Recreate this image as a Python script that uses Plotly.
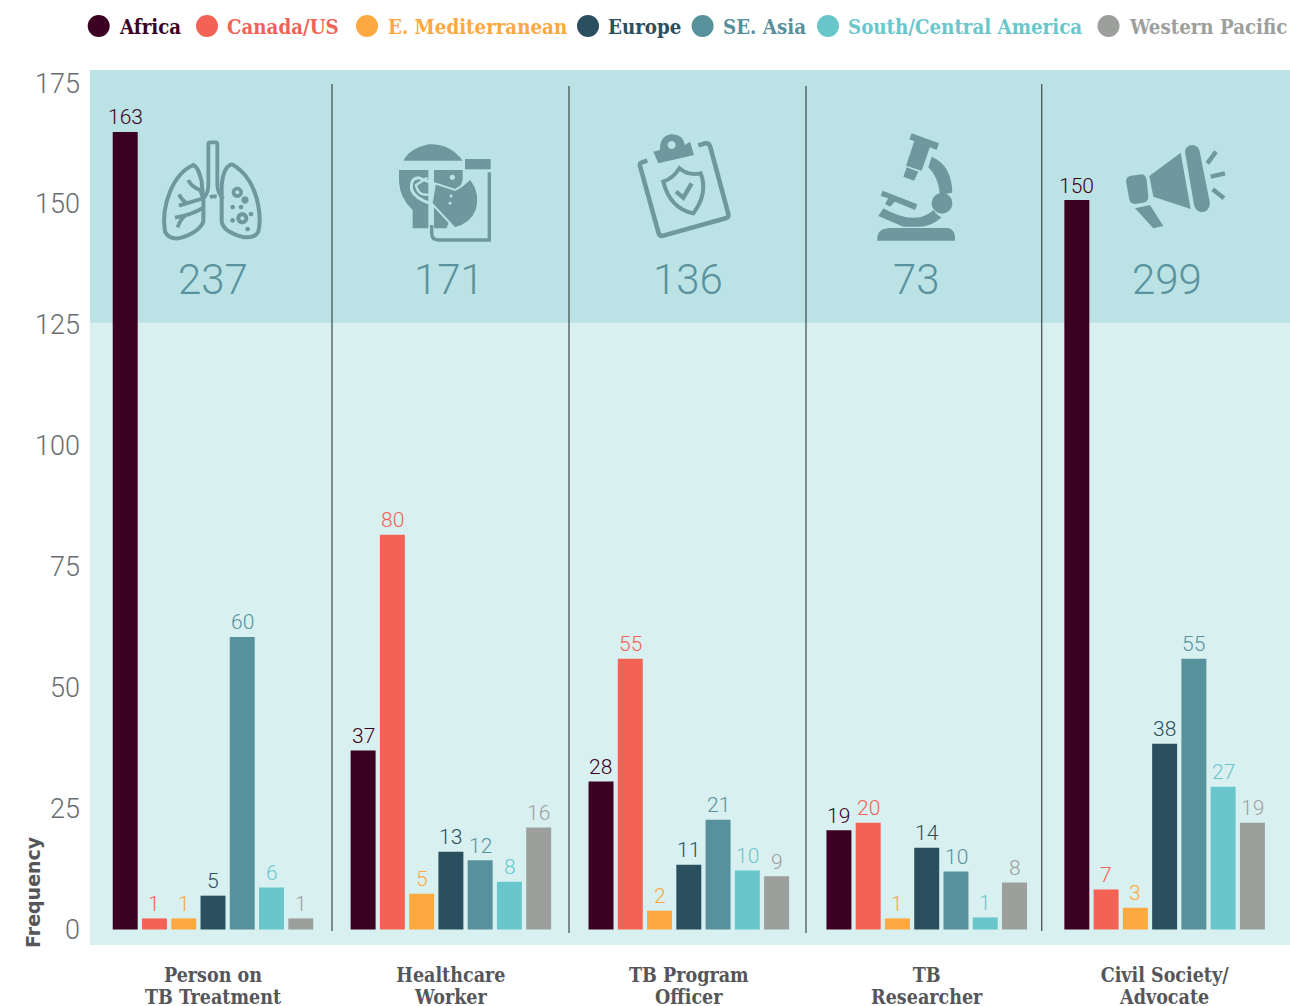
import re
import plotly.graph_objects as go

# ---- data ----
categories = ["Person on<br>TB Treatment", "Healthcare<br>Worker", "TB Program<br>Officer",
              "TB<br>Researcher", "Civil Society/<br>Advocate"]
series_names = ["Africa", "Canada/US", "E. Mediterranean", "Europe", "SE. Asia",
                "South/Central America", "Western Pacific"]
series_colors = ["#3c0022", "#f26355", "#fda840", "#2a4f5e", "#57919c", "#69c7cc", "#9c9f9c"]

africa_bars = [164.9, 37.0, 30.6, 20.5, 150.8]
canada_bars = [2.3, 81.6, 56.0, 22.1, 8.3]
emed_bars = [2.3, 7.4, 3.9, 2.3, 4.5]
europe_bars = [7.0, 16.1, 13.4, 16.9, 38.4]
seasia_bars = [60.5, 14.3, 22.7, 12.0, 56.0]
scamerica_bars = [8.7, 9.9, 12.2, 2.5, 29.5]
wpacific_bars = [2.3, 21.1, 11.0, 9.7, 22.1]
bar_values = [africa_bars, canada_bars, emed_bars, europe_bars, seasia_bars, scamerica_bars, wpacific_bars]

africa_labels = [163, 37, 28, 19, 150]
canada_labels = [1, 80, 55, 20, 7]
emed_labels = [1, 5, 2, 1, 3]
europe_labels = [5, 13, 11, 14, 38]
seasia_labels = [60, 12, 21, 10, 55]
scamerica_labels = [6, 8, 10, 1, 27]
wpacific_labels = [1, 16, 9, 8, 19]
bar_labels = [africa_labels, canada_labels, emed_labels, europe_labels, seasia_labels, scamerica_labels, wpacific_labels]

totals = [237, 171, 136, 73, 299]
y_ticks = [0, 25, 50, 75, 100, 125, 150, 175]

# ---- layout constants ----
W, H = 1290, 1006
L, T, R, B = 90, 70, 1290, 945
THIN = "Roboto"
SLAB = "DejaVu Serif Condensed"
ICON = "#6f989e"
BAND = "#bbe3e5"
PALE = "#d9f0f1"

def px(x): return (x - L) / (R - L)
def py(y): return (B - y) / (B - T)

def to_paper(path, ox=0, oy=0, s=1.0):
    toks = re.findall(r"[MLQCZ]|-?\d+\.?\d*", path)
    out, is_x = [], True
    for t in toks:
        if t in "MLQCZ":
            out.append(t); is_x = True
        else:
            v = float(t)
            if is_x:
                out.append(f"{px(ox + v * s):.5f}")
            else:
                out.append(f"{py(oy + v * s):.5f}")
            is_x = not is_x
    res, i = "", 0
    while i < len(out):
        if out[i] in "MLQCZ":
            res += out[i]; i += 1
        else:
            res += out[i] + "," + out[i + 1] + " "; i += 2
    return res

def circ(cx, cy, r):
    k = 0.5523 * r
    return (f"M {cx-r} {cy} C {cx-r} {cy-k} {cx-k} {cy-r} {cx} {cy-r} "
            f"C {cx+k} {cy-r} {cx+r} {cy-k} {cx+r} {cy} "
            f"C {cx+r} {cy+k} {cx+k} {cy+r} {cx} {cy+r} "
            f"C {cx-k} {cy+r} {cx-r} {cy+k} {cx-r} {cy} Z ")

shapes = []
def fill(path, ox, oy, color=ICON, s=1/3):
    shapes.append(dict(type="path", xref="paper", yref="paper", path=to_paper(path, ox, oy, s),
                       fillcolor=color, line=dict(width=0), fillrule="evenodd", layer="below"))
def stroke(path, ox, oy, w, color=ICON, s=1/3):
    shapes.append(dict(type="path", xref="paper", yref="paper", path=to_paper(path, ox, oy, s),
                       fillcolor="rgba(0,0,0,0)", line=dict(width=w, color=color), layer="below"))

# background band
shapes.append(dict(type="rect", xref="paper", yref="paper", x0=0, x1=1, y0=py(322.7), y1=1,
                   fillcolor=BAND, line=dict(width=0), layer="below"))

# group separators
for x, y0, y1 in [(332, 84, 931), (569, 86, 933), (806, 86, 933), (1041.7, 84, 931)]:
    shapes.append(dict(type="line", xref="paper", yref="paper", x0=px(x), x1=px(x), y0=py(y0), y1=py(y1),
                       line=dict(width=1.3, color="#4a5556"), layer="below"))

# lungs
ox, oy = 155, 135
stroke("M 160 150 L 160 27 Q 160 22 165 22 L 182 22 Q 187 22 187 27 L 187 150 Q 187 172 205 192", ox, oy, 3.8)
stroke("M 160 150 Q 160 175 145 190 L 72 212", ox, oy, 3.8)
stroke("M 225 90 Q 205 100 200 150 L 200 260 Q 205 290 260 305 Q 300 312 310 290 Q 320 250 305 190 Q 285 120 235 90 Q 230 87 225 90 Z", ox, oy, 4)
stroke("M 115 90 Q 130 95 140 140 Q 148 200 145 260 Q 130 295 70 310 Q 40 312 30 290 Q 20 230 45 170 Q 70 110 115 90 Z", ox, oy, 4)
stroke("M 100 135 Q 108 155 135 165 L 145 190", ox, oy, 3.8)
stroke("M 72 178 Q 80 195 95 205", ox, oy, 3.8)
stroke("M 145 218 Q 110 240 60 248", ox, oy, 3.8)
stroke("M 90 242 Q 75 255 68 277", ox, oy, 3.8)
stroke("M 165 187 Q 172 182 185 185", ox, oy, 3.8)
fill(circ(247, 172, 17) + circ(247, 172, 6), ox, oy)
fill(circ(270, 195, 11), ox, oy)
fill(circ(233, 216, 7), ox, oy)
fill(circ(258, 216, 7), ox, oy)
fill(circ(262, 250, 18) + circ(262, 250, 6), ox, oy)
fill(circ(288, 237, 7), ox, oy)
fill(circ(233, 256, 7), ox, oy)
fill(circ(278, 282, 7), ox, oy)

# face shield
ox, oy = 390, 135
fill("M 40 77 Q 60 40 115 28 Q 180 25 218 77 Z", ox, oy)
fill("M 225 72 L 302 72 L 302 103 L 225 103 Z", ox, oy)
fill("M 27 105 L 115 105 L 115 280 L 68 280 L 68 225 Q 30 190 27 140 Z", ox, oy)
fill("M 132 105 L 218 105 L 218 135 L 170 280 L 132 280 Z", ox, oy)
stroke("M 298 112 L 298 315 L 145 315 Q 125 315 125 295 L 125 270", ox, oy, 3.4)
stroke("M 130 145 L 85 128 Q 60 130 65 165 Q 75 190 120 205", ox, oy, 3, BAND)
stroke("M 112 128 L 78 150 Q 85 185 118 178", ox, oy, 2.4, BAND)
shapes.append(dict(type="path", xref="paper", yref="paper",
                   path=to_paper("M 135 145 L 195 165 Q 225 148 240 130 Q 275 170 260 225 Q 245 265 195 280 L 125 205 Z", ox, oy, 1/3),
                   fillcolor=ICON, line=dict(width=2, color=BAND), layer="below"))
fill(circ(187, 127, 8), ox, oy, BAND)
fill(circ(183, 183, 4.5), ox, oy, BAND)
fill(circ(180, 205, 4.5), ox, oy, BAND)

# clipboard
ox, oy = 630, 130
stroke("M 52 92 L 36 97 Q 28 100 30 108 L 86 310 Q 90 320 100 317 L 287 265 Q 297 262 295 252 L 240 48 Q 236 38 226 40 L 205 46", ox, oy, 4.6)
fill("M 70 65 L 90 60 Q 88 20 122 13 Q 158 10 165 45 L 180 35 L 192 75 L 85 100 Z" + " " + circ(125, 45, 12), ox, oy)
stroke("M 148 115 Q 175 138 212 130 Q 235 190 190 250 Q 120 235 100 155 Q 130 145 148 115 Z", ox, oy, 4)
stroke("M 138 185 L 160 203 L 185 160", ox, oy, 4.4)

# microscope
ox, oy = 870, 130
fill("M 125 10 L 207 40 L 200 60 L 118 28 Z", ox, oy)
fill("M 133 32 L 180 50 L 155 122 L 108 107 Z", ox, oy)
fill("M 110 112 L 145 125 L 132 152 L 100 140 Z", ox, oy)
fill("M 185 80 Q 245 105 247 188 Q 230 190 210 195 Q 205 140 175 112 Z", ox, oy)
fill(circ(216, 220, 31), ox, oy)
fill("M 38 182 L 142 223 L 135 240 L 75 215 L 60 230 L 45 222 L 55 205 L 32 198 Z", ox, oy)
fill("M 40 235 Q 100 270 150 262 Q 175 255 190 240 Q 205 260 215 262 Q 185 290 150 290 L 100 290 L 25 258 Z", ox, oy)
fill("M 22 332 L 22 320 Q 25 295 60 294 L 235 294 Q 258 300 255 332 Z", ox, oy)

# megaphone
ox, oy = 1120, 140
fill("M 30 108 L 65 103 Q 78 105 80 120 L 85 170 Q 85 185 70 188 L 45 192 Q 30 192 28 178 L 18 125 Q 18 112 30 108 Z", ox, oy)
fill("M 182 38 L 212 207 L 100 170 L 88 108 Z", ox, oy)
fill("M 195 35 Q 197 15 218 15 Q 238 17 240 40 L 270 190 Q 268 215 245 217 Q 228 215 222 195 Z", ox, oy)
fill("M 45 205 L 90 195 L 130 258 L 100 265 Z", ox, oy)
stroke("M 262 70 L 288 35", ox, oy, 4.4)
stroke("M 272 110 L 315 100", ox, oy, 4.4)
stroke("M 278 148 L 312 175", ox, oy, 4.4)

annotations = []

# legend
legend_circle_x = [98.7, 207, 367, 588, 702.6, 828, 1108.5]
legend_text_x = [119, 227, 387.6, 608, 723, 848, 1129]
LEG_Y = 26
for name, col, cx, tx in zip(series_names, series_colors, legend_circle_x, legend_text_x):
    shapes.append(dict(type="circle", xref="paper", yref="paper", x0=px(cx - 11), x1=px(cx + 11),
                       y0=py(LEG_Y + 11), y1=py(LEG_Y - 11), fillcolor=col, line=dict(width=0)))
    annotations.append(dict(xref="paper", yref="paper", x=px(tx), y=py(LEG_Y + 1), text=name, showarrow=False,
                            xanchor="left", yanchor="middle", xshift=-2,
                            font=dict(family=SLAB, size=20.3, color=col, weight="bold")))

# totals
total_x = [212.7, 449, 688, 916, 1166.5]
for v, x in zip(totals, total_x):
    annotations.append(dict(xref="paper", yref="paper", x=px(x), y=py(279), text=str(v), showarrow=False,
                            xanchor="center", yanchor="middle",
                            font=dict(family=THIN, size=42, color="#5a929e", weight=300)))

# y title
annotations.append(dict(xref="paper", yref="paper", x=px(33), y=py(892), text="Frequency", textangle=-90,
                        showarrow=False, xanchor="center", yanchor="middle",
                        font=dict(family="DejaVu Sans", size=19, color="#55565a", weight="bold")))

# ---- figure ----
fig = go.Figure()
SPREAD = 29.3 / 237.9
for i, (name, col, vals, labs) in enumerate(zip(series_names, series_colors, bar_values, bar_labels)):
    fig.add_trace(go.Bar(name=name, x=categories, y=vals, marker=dict(color=col, line=dict(width=0)),
                         showlegend=False, hoverinfo="x+y"))
    for g, (v, lab) in enumerate(zip(vals, labs)):
        annotations.append(dict(xref="x", yref="y", x=g + (i - 3) * SPREAD, y=v, yshift=14.5, text=str(lab),
                                showarrow=False, xanchor="center", yanchor="middle",
                                font=dict(family=THIN, size=21, color=col, weight=300)))

tick_text = ['<span style="font-size:19.5px">' + c.replace("<br>", '</span><br><span style="font-size:19.5px">') + "</span>"
             for c in categories]

fig.update_layout(
    width=W, height=H, autosize=False,
    margin=dict(l=L, r=W - R, t=T, b=H - B, pad=0, autoexpand=False),
    paper_bgcolor="white", plot_bgcolor=PALE,
    barmode="group", bargap=0.139, bargroupgap=0.147,
    showlegend=False, shapes=shapes, annotations=annotations,
    xaxis=dict(type="category", categoryorder="array", categoryarray=categories,
               range=[-0.517, 4.527], showgrid=False, zeroline=False, showline=False,
               ticks="", ticklabelstandoff=19, tickangle=0, automargin=False,
               tickmode="array", tickvals=categories, ticktext=tick_text,
               tickfont=dict(family=SLAB, size=17, color="#55565a", weight="bold")),
    yaxis=dict(range=[-3.2, 177.7], tickmode="array", tickvals=y_ticks, showgrid=False, zeroline=False,
               showline=False, ticks="", ticklabelstandoff=9, automargin=False,
               tickfont=dict(family=THIN, size=27, color="#6a6d70", weight=300)),
)

fig.write_html("out.html", config=dict(displayModeBar=False),
               post_script="document.body.style.margin='0';document.body.style.overflow='hidden';")
